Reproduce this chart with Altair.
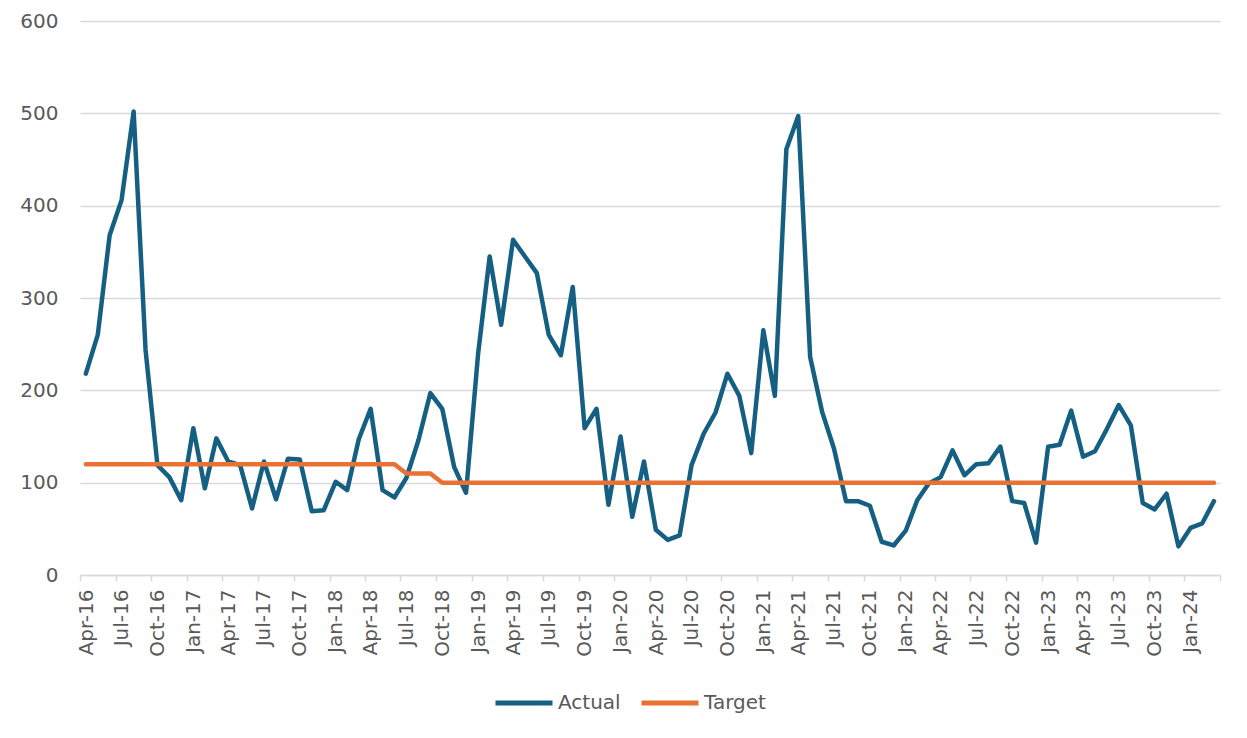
import altair as alt
import pandas as pd

# Monthly periods Apr-2016 .. Mar-2024
months = pd.date_range("2016-04-01", periods=96, freq="MS")

actual = [
    218, 260, 368, 406, 502, 244, 119, 106, 81, 159, 94, 148,   # Apr-16 .. Mar-17
    123, 119, 72, 123, 82, 126, 125, 69, 70, 101, 92, 147,      # Apr-17 .. Mar-18
    180, 92, 84, 105, 146, 197, 180, 117, 89, 240, 345, 271,    # Apr-18 .. Mar-19
    363, 345, 327, 260, 238, 312, 159, 180, 76, 150, 63, 123,   # Apr-19 .. Mar-20
    49, 38, 43, 119, 153, 176, 218, 194, 132, 265, 194, 461,    # Apr-20 .. Mar-21
    497, 236, 177, 137, 80, 80, 75, 36, 32, 48, 81, 99,         # Apr-21 .. Mar-22
    106, 135, 108, 120, 121, 139, 80, 78, 35, 139, 141, 178,    # Apr-22 .. Mar-23
    128, 134, 158, 184, 162, 78, 71, 88, 31, 51, 56, 80,        # Apr-23 .. Mar-24
]

target = [
    120, 120, 120, 120, 120, 120, 120, 120, 120, 120, 120, 120,
    120, 120, 120, 120, 120, 120, 120, 120, 120, 120, 120, 120,
    120, 120, 120, 110, 110, 110, 100, 100, 100, 100, 100, 100,
    100, 100, 100, 100, 100, 100, 100, 100, 100, 100, 100, 100,
    100, 100, 100, 100, 100, 100, 100, 100, 100, 100, 100, 100,
    100, 100, 100, 100, 100, 100, 100, 100, 100, 100, 100, 100,
    100, 100, 100, 100, 100, 100, 100, 100, 100, 100, 100, 100,
    100, 100, 100, 100, 100, 100, 100, 100, 100, 100, 100, 100,
]

series_names = ["Actual", "Target"]
series_colors = ["#156082", "#E97132"]
y_ticks = [0, 100, 200, 300, 400, 500, 600]

df = pd.concat([
    pd.DataFrame({"month": months, "series": "Actual", "value": actual}),
    pd.DataFrame({"month": months, "series": "Target", "value": target}),
])

# quarterly tick dates (Apr, Jul, Oct, Jan) incl. the axis end
tick_dates = pd.date_range("2016-04-01", "2024-04-01", freq="3MS")
tick_values = [alt.DateTime(year=int(d.year), month=int(d.month), date=1) for d in tick_dates]

FONT = "DejaVu Sans"
TXT = "#595959"
GRID = "#d9d9d9"

chart = alt.Chart(df).mark_line(
    strokeWidth=4.5, strokeCap="round", strokeJoin="round"
).encode(
    x=alt.X(
        "month:T",
        timeUnit="yearmonth",
        bandPosition=0.5,
        scale=alt.Scale(domain=[alt.DateTime(year=2016, month=4, date=1),
                                alt.DateTime(year=2024, month=4, date=1)]),
        axis=alt.Axis(
            values=tick_values,
            format="%b-%y",
            labelExpr="datum.value >= datetime(2024, 2, 1) ? '' : timeFormat(datum.value, '%b-%y')",
            labelAngle=270,
            labelOffset=6,
            labelPadding=8,
            labelFlush=False,
            labelOverlap=False,
            labelFont=FONT,
            labelFontSize=20,
            labelColor=TXT,
            tickColor=GRID,
            tickSize=6,
            tickWidth=1.5,
            domainColor=GRID,
            domainWidth=1.5,
            grid=False,
            title=None,
        ),
    ),
    y=alt.Y(
        "value:Q",
        scale=alt.Scale(domain=[0, 600], nice=False),
        axis=alt.Axis(
            values=y_ticks,
            domain=False,
            ticks=False,
            labelPadding=22,
            labelFont=FONT,
            labelFontSize=20,
            labelColor=TXT,
            gridColor=GRID,
            gridWidth=1.5,
            title=None,
        ),
    ),
    color=alt.Color(
        "series:N",
        scale=alt.Scale(domain=series_names, range=series_colors),
        legend=alt.Legend(
            title=None,
            orient="none",
            legendX=413,
            legendY=651,
            direction="horizontal",
            symbolType="stroke",
            symbolSize=3249,
            symbolStrokeWidth=5,
            labelFont=FONT,
            labelFontSize=20,
            labelColor=TXT,
            labelOffset=3,
            columnPadding=10,
        ),
    ),
).properties(
    width=1140,
    height=554,
    autosize=alt.AutoSizeParams(type="none"),
    padding={"left": 72, "top": 13, "right": 10, "bottom": 150},
).configure_view(stroke="transparent")

chart.save("out.html", embed_options={"renderer": "svg", "actions": False})
